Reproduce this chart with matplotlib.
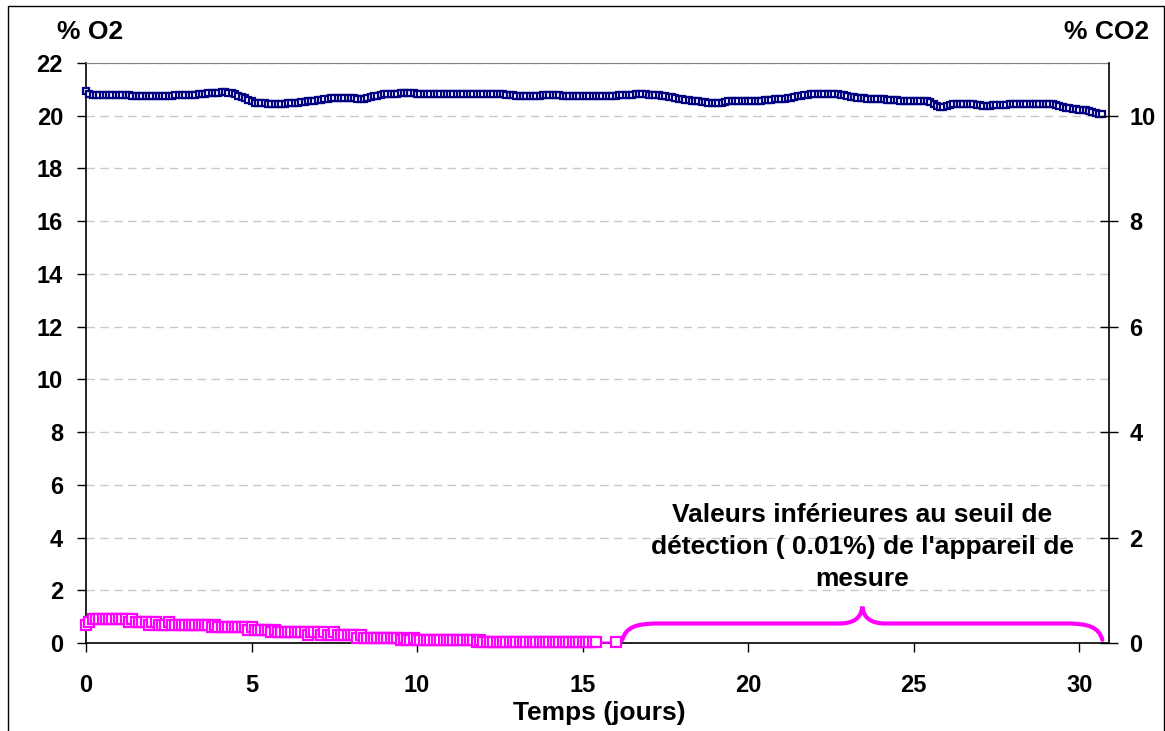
import numpy as np
import matplotlib.pyplot as plt
from matplotlib.path import Path
from matplotlib.patches import PathPatch, Rectangle

plt.rcParams['font.family'] = ['Liberation Sans', 'DejaVu Sans']
plt.rcParams['font.weight'] = 'bold'

# O2 (%) - une mesure tous les 0.1 jour, de 0 à 30.7 j
o2 = [
    20.94, 20.82, 20.80, 20.80, 20.79, 20.79, 20.79, 20.79, 20.79, 20.78,
    20.78, 20.78, 20.77, 20.77, 20.76, 20.76, 20.75, 20.75, 20.74, 20.74,
    20.74, 20.74, 20.75, 20.75, 20.76, 20.76, 20.76, 20.77, 20.77, 20.77,
    20.77, 20.78, 20.79, 20.80, 20.81, 20.83, 20.84, 20.86, 20.87, 20.88,
    20.88, 20.89, 20.89, 20.88, 20.86, 20.81, 20.76, 20.71, 20.66, 20.60,
    20.55, 20.50, 20.48, 20.47, 20.47, 20.46, 20.46, 20.45, 20.45, 20.46,
    20.46, 20.47, 20.48, 20.49, 20.50, 20.51, 20.53, 20.54, 20.56, 20.57,
    20.59, 20.61, 20.63, 20.65, 20.67, 20.68, 20.69, 20.69, 20.69, 20.68,
    20.67, 20.66, 20.64, 20.63, 20.64, 20.67, 20.70, 20.73, 20.76, 20.79,
    20.81, 20.82, 20.83, 20.84, 20.84, 20.85, 20.85, 20.85, 20.85, 20.85,
    20.84, 20.84, 20.84, 20.83, 20.83, 20.83, 20.83, 20.83, 20.83, 20.83,
    20.83, 20.83, 20.84, 20.84, 20.84, 20.84, 20.84, 20.84, 20.84, 20.84,
    20.84, 20.84, 20.84, 20.84, 20.83, 20.83, 20.82, 20.80, 20.79, 20.77,
    20.76, 20.76, 20.76, 20.76, 20.76, 20.76, 20.76, 20.76, 20.77, 20.77,
    20.77, 20.77, 20.77, 20.77, 20.76, 20.75, 20.74, 20.73, 20.73, 20.73,
    20.73, 20.73, 20.73, 20.73, 20.73, 20.74, 20.74, 20.75, 20.75, 20.76,
    20.76, 20.77, 20.78, 20.79, 20.80, 20.80, 20.81, 20.81, 20.81, 20.81,
    20.80, 20.79, 20.78, 20.77, 20.76, 20.74, 20.72, 20.70, 20.67, 20.65,
    20.63, 20.61, 20.59, 20.57, 20.56, 20.54, 20.52, 20.51, 20.49, 20.48,
    20.47, 20.48, 20.50, 20.52, 20.54, 20.55, 20.55, 20.55, 20.54, 20.54,
    20.54, 20.54, 20.55, 20.56, 20.57, 20.58, 20.59, 20.60, 20.62, 20.63,
    20.64, 20.65, 20.66, 20.68, 20.70, 20.73, 20.75, 20.78, 20.80, 20.82,
    20.83, 20.83, 20.83, 20.83, 20.83, 20.82, 20.82, 20.81, 20.79, 20.77,
    20.74, 20.72, 20.70, 20.68, 20.67, 20.66, 20.65, 20.65, 20.64, 20.63,
    20.63, 20.62, 20.61, 20.60, 20.59, 20.58, 20.56, 20.56, 20.55, 20.55,
    20.55, 20.54, 20.54, 20.54, 20.54, 20.52, 20.46, 20.38, 20.32, 20.34,
    20.38, 20.41, 20.43, 20.44, 20.45, 20.45, 20.45, 20.44, 20.43, 20.41,
    20.39, 20.37, 20.37, 20.38, 20.39, 20.40, 20.41, 20.42, 20.42, 20.43,
    20.43, 20.44, 20.44, 20.45, 20.45, 20.45, 20.45, 20.45, 20.45, 20.45,
    20.45, 20.45, 20.44, 20.42, 20.38, 20.34, 20.31, 20.29, 20.27, 20.25,
    20.23, 20.21, 20.20, 20.18, 20.15, 20.11, 20.08, 20.06,
]
o2_jours = np.round(np.arange(len(o2)) * 0.1, 1)

# CO2 (%) - tous les 0.1 jour jusqu'à 15.4 j, puis une dernière mesure à 16 j
co2 = [
    0.35, 0.40, 0.45, 0.45, 0.45, 0.45, 0.45, 0.45, 0.45, 0.45,
    0.45, 0.45, 0.45, 0.40, 0.45, 0.40, 0.40, 0.40, 0.40, 0.35,
    0.40, 0.40, 0.35, 0.35, 0.35, 0.40, 0.35, 0.35, 0.35, 0.35,
    0.35, 0.35, 0.35, 0.35, 0.35, 0.35, 0.35, 0.35, 0.30, 0.35,
    0.30, 0.30, 0.30, 0.30, 0.30, 0.30, 0.30, 0.30, 0.30, 0.25,
    0.30, 0.25, 0.25, 0.25, 0.25, 0.25, 0.20, 0.25, 0.20, 0.20,
    0.20, 0.20, 0.20, 0.20, 0.20, 0.20, 0.20, 0.15, 0.20, 0.20,
    0.20, 0.15, 0.20, 0.15, 0.15, 0.20, 0.15, 0.15, 0.15, 0.15,
    0.15, 0.15, 0.10, 0.15, 0.10, 0.10, 0.10, 0.10, 0.10, 0.10,
    0.10, 0.10, 0.10, 0.10, 0.10, 0.05, 0.10, 0.05, 0.05, 0.10,
    0.05, 0.05, 0.05, 0.05, 0.05, 0.05, 0.05, 0.05, 0.05, 0.05,
    0.05, 0.05, 0.05, 0.05, 0.05, 0.05, 0.05, 0.05, 0.01, 0.05,
    0.01, 0.01, 0.01, 0.01, 0.01, 0.01, 0.01, 0.01, 0.01, 0.01,
    0.01, 0.01, 0.01, 0.01, 0.01, 0.01, 0.01, 0.01, 0.01, 0.01,
    0.01, 0.01, 0.01, 0.01, 0.01, 0.01, 0.01, 0.01, 0.01, 0.01,
    0.01, 0.01, 0.01, 0.01, 0.01,
    0.01,
]
co2_jours = np.r_[np.round(np.arange(len(co2) - 1) * 0.1, 1), 16.0]

x_ticks = [0, 5, 10, 15, 20, 25, 30]
o2_ticks = [0, 2, 4, 6, 8, 10, 12, 14, 16, 18, 20, 22]
co2_ticks = [0, 2, 4, 6, 8, 10]

note = "Valeurs inférieures au seuil de\ndétection ( 0.01%) de l'appareil de\nmesure"

BLEU = '#000080'
MAGENTA = '#FF00FF'
FS = 17      # graduations
FS_T = 19    # titres et annotation


def accolade(ax, x0, x1, y0, y1, y2, r_bout, r_pointe, **kw):
    # accolade horizontale ouverte vers le bas, pointe au milieu
    xm = (x0 + x1) / 2
    verts = [
        (x0, y0),
        (x0 + 0.1 * r_bout, y0 + 0.8 * (y1 - y0)), (x0 + 0.4 * r_bout, y1), (x0 + r_bout, y1),
        (xm - r_pointe, y1),
        (xm - 0.4 * r_pointe, y1), (xm - 0.05 * r_pointe, y1 + 0.3 * (y2 - y1)), (xm, y2),
        (xm + 0.05 * r_pointe, y1 + 0.3 * (y2 - y1)), (xm + 0.4 * r_pointe, y1), (xm + r_pointe, y1),
        (x1 - r_bout, y1),
        (x1 - 0.4 * r_bout, y1), (x1 - 0.1 * r_bout, y0 + 0.8 * (y1 - y0)), (x1, y0),
    ]
    codes = [Path.MOVETO,
             Path.CURVE4, Path.CURVE4, Path.CURVE4,
             Path.LINETO,
             Path.CURVE4, Path.CURVE4, Path.CURVE4,
             Path.CURVE4, Path.CURVE4, Path.CURVE4,
             Path.LINETO,
             Path.CURVE4, Path.CURVE4, Path.CURVE4]
    ax.add_patch(PathPatch(Path(verts, codes), fill=False, **kw))
    return xm


fig = plt.figure(figsize=(11.65, 7.31), dpi=100)
ax = fig.add_axes([86 / 1165, 88 / 731, 1023 / 1165, 580 / 731])
ax2 = ax.twinx()

ax.plot(o2_jours, o2, color=BLEU, lw=1.5, marker='s', ms=5, mew=1.6,
        mfc='white', mec=BLEU, clip_on=False, zorder=3)
ax2.plot(co2_jours, co2, color=MAGENTA, lw=1.5, marker='s', ms=7, mew=1.6,
         mfc='white', mec=MAGENTA, clip_on=False, zorder=3)

ax.set_xlim(0, 30.9)
ax.set_ylim(0, 22)
ax2.set_ylim(0, 11)
ax.set_xticks(x_ticks)
ax.set_yticks(o2_ticks)
ax2.set_yticks(co2_ticks)

ax.yaxis.grid(True, color='#c8c8c8', linestyle=(0, (6, 4)), linewidth=1)
ax.set_axisbelow(True)

for a in (ax, ax2):
    for s in a.spines.values():
        s.set_visible(False)
ax.spines['left'].set_visible(True)
ax.spines['bottom'].set_visible(True)
ax.spines['top'].set_visible(True)
ax.spines['top'].set_color('#808080')
ax2.spines['right'].set_visible(True)
for s in (ax.spines['left'], ax.spines['bottom'], ax2.spines['right']):
    s.set_color('black')
    s.set_linewidth(1.2)

ax.tick_params(axis='y', direction='out', length=6.5, width=1, pad=10, labelsize=FS)
ax.tick_params(axis='x', direction='out', length=6.5, width=1, pad=16, labelsize=FS)
ax2.tick_params(axis='y', direction='inout', length=13, width=1, pad=8, labelsize=FS)

# période où le CO2 est sous le seuil de détection
xm = accolade(ax2, co2_jours[-1] + 0.2, o2_jours[-1], 0.06, 0.37, 0.69, 1.1, 0.7,
              color=MAGENTA, lw=3, clip_on=False, capstyle='round', zorder=4)
ax2.text(xm, 1.82, note, ha='center', va='center', fontsize=FS_T,
         fontweight='bold', linespacing=1.42)

fig.text(90 / 1165, 1 - 32 / 731, '% O2', ha='center', va='center', fontsize=FS_T)
fig.text(1107 / 1165, 1 - 32 / 731, '% CO2', ha='center', va='center', fontsize=FS_T)
fig.text(599 / 1165, 1 - 713 / 731, 'Temps (jours)', ha='center', va='center', fontsize=FS_T)

fig.add_artist(Rectangle((7.5 / 1165, -0.01), 1156 / 1165, 1.01 - 6.5 / 731,
                         transform=fig.transFigure, fill=False, ec='black', lw=1))

fig.savefig('out.png', dpi=100)
